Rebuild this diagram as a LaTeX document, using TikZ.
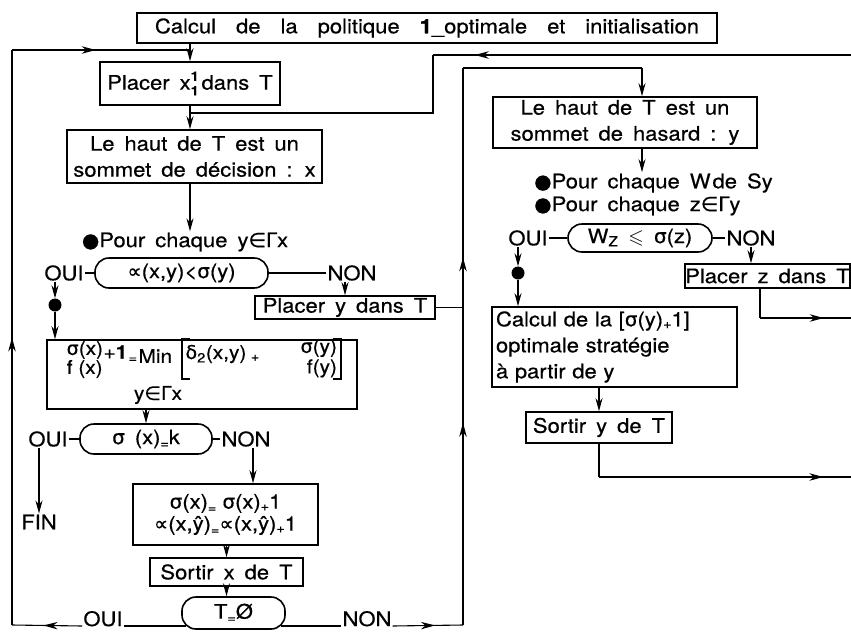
\documentclass[tikz,border=0pt]{standalone}
\usepackage{fontspec}
\usepackage{amssymb}
\setmainfont{TeX Gyre Heros}[FakeStretch=1.1, FakeBold=0.5]
\newfontfamily\symf{DejaVu Sans}[FakeBold=0.5]
\usetikzlibrary{arrows.meta,decorations.markings,calc}
\newcommand\fsz{\fontsize{20}{26}\selectfont\spaceskip=0.5em plus 0.1em\relax}
\newcommand\fszw{\fontsize{20}{26}\selectfont\spaceskip=1.0em plus 0.1em\relax}
\newcommand\fml{\fontsize{19}{22}\selectfont}
\newcommand\smf{\fontsize{13}{14}\selectfont}
\newcommand\sg{{\symf σ}}
\newcommand\al{{\symf ∝}}
\newcommand\eqs{\raisebox{-0.35ex}{\smf=}}
\newcommand\pls{\raisebox{-0.2ex}{\smf+}}
\newcommand\inn{{\symf ∈}}
\newcommand\Gm{{\symf Γ}}
\newcommand\bul{{\symf ●}}
\begin{document}
\begin{tikzpicture}[x=1pt,y=-1pt,
  box/.style={draw, line width=1.6pt, inner sep=0pt, font=\fsz, align=center},
  decision/.style={box, rounded corners=14pt},
  lbl/.style={font=\fsz, inner sep=1pt},
  fl/.style={font=\fml, inner sep=0.5pt},
  line/.style={line width=1.1pt},
  arr/.style={line, -{Stealth[length=13pt,width=7pt]}},
  midarr/.style={line, postaction={decorate}, decoration={markings, mark=at position #1 with {\arrow{Stealth[length=14pt,width=7.5pt]}}}},
  twoarr/.style 2 args={line, postaction={decorate}, decoration={markings, mark=at position #1 with {\arrow{Stealth[length=14pt,width=7.5pt]}}, mark=at position #2 with {\arrow{Stealth[length=14pt,width=7.5pt]}}}},
  dotn/.style={circle, fill, inner sep=0pt, minimum size=13pt}
]
\useasboundingbox (0,0) rectangle (851,640);

% ---------- left column ----------
\node[box, minimum width=580pt, minimum height=30pt, font=\fszw] (top) at (427,28) {Calcul de la politique \textbf{1}\_optimale et initialisation};
\node[box, minimum width=180pt, minimum height=43pt] (placer1) at (190,83.5)
  {Placer x\rlap{\raisebox{0.85ex}{\smf\bfseries 1}}\raisebox{-0.55ex}{\smf\bfseries 1}\kern3pt dans T};
\node[box, minimum width=255pt, minimum height=53pt] (decx) at (194.5,156.5) {Le haut de T est un\\sommet de décision : x};
\node[lbl] (pour1) at (185,242) {\bul Pour chaque y\inn\Gm x};
\node[decision, minimum width=173pt, minimum height=30pt] (cond1) at (181.5,273) {\al(x,y)<\sg(y)};
\node[lbl] (oui1) at (64,273) {OUI};
\node[lbl] (non1) at (352,273) {NON};
\node[box, minimum width=180pt, minimum height=23pt] (placery) at (345,307.5) {Placer y dans T};
\node[dotn] (d1) at (55,305) {};

\node[box, minimum width=310pt, minimum height=69pt] (formula) at (202,374.5) {};
\node[fl, anchor=west] (fa) at (66,350) {\sg(x)};
\node[fl, anchor=west] (fb) at (66,369) {f (x)};
\node[fl, anchor=west] (fc) at ($(fa.east)+(-1,2)$) {+\textbf{1}};
\node[fl, anchor=west, font=\smf] (fd) at ($(fc.east)+(0,8)$) {=};
\node[fl, anchor=west] (fe) at ($(fd.east)+(0,-4)$) {Min};
\coordinate (bl) at ($(fe.east)+(9,0)$);
\node[fl, anchor=west] (ff) at ($(bl)+(3,-2)$) {{\symf δ}\textsubscript{2}(x,y)};
\node[fl, anchor=west, font=\smf] (fg) at ($(ff.east)+(3,4)$) {+};
\node[fl, anchor=west] (fh) at ($(fg.east)+(40,-10)$) {\sg(y)};
\node[fl, anchor=north east] (fi) at ($(fh.south east)+(0,1)$) {f(y)};
\coordinate (br) at ($(fh.east |- bl)+(3,0)$);
\node[fl] (fj) at (158,395) {y\inn\Gm x};
\draw[line width=1.7pt] ($(bl)+(8,-17)$) -- ($(bl)+(0,-17)$) -- ($(bl)+(0,23)$) -- ($(bl)+(8,23)$);
\draw[line width=1.7pt] ($(br)+(-8,-17)$) -- ($(br)+(0,-17)$) -- ($(br)+(0,23)$) -- ($(br)+(-8,23)$);

\node[decision, minimum width=132pt, minimum height=30pt] (cond2) at (146,439) {\sg\ (x)\eqs k};
\node[lbl] (oui2) at (48,439) {OUI};
\node[lbl] (non2) at (246,439) {NON};
\node[lbl] (fin) at (39,522) {FIN};
\node[box, minimum width=185pt, minimum height=61pt, font=\fml] (incr) at (225.5,514.5)
  {\fontsize{20}{26}\selectfont\sg(x)\eqs\ \sg(x)\pls 1\\ \fontsize{20}{26}\selectfont\al(x,ŷ)\eqs\al(x,ŷ)\pls 1};
\node[box, minimum width=153pt, minimum height=28pt] (sortirx) at (226.5,572) {Sortir x de T};
\node[decision, minimum width=103pt, minimum height=32pt] (tvide) at (233.5,613) {T\eqs Ø};
\node[lbl, anchor=base] (oui3) at (103,626) {OUI};
\node[lbl, anchor=base] (non3) at (367,626) {NON};

% ---------- right column ----------
\node[box, minimum width=264pt, minimum height=51pt] (hasard) at (625,122.5) {Le haut de T est un\\sommet de hasard : y};
\node[lbl, anchor=west] (pour2) at (533,183) {\bul Pour chaque W\kern2pt de Sy};
\node[lbl, anchor=west] (pour3) at (533,206) {\bul Pour chaque z\inn\Gm y};
\node[decision, minimum width=144pt, minimum height=28pt] (cond3) at (640,238) {W\textsubscript{Z} $\leqslant$ \sg(z)};
\node[lbl] (oui4) at (528,238) {OUI};
\node[lbl] (non4) at (751,238) {NON};
\node[box, minimum width=163pt, minimum height=24pt] (placerz) at (767.5,276) {Placer z dans T};
\node[dotn] (d2) at (518,273) {};
\node[box, minimum width=245pt, minimum height=80pt, text width=237pt, align=left] (calcul) at (614.5,347)
  {Calcul de la [\sg(y)\pls 1]\\optimale stratégie\\à partir de y};
\node[box, minimum width=146pt, minimum height=31pt] (sortiry) at (599,427.5) {Sortir y de T};

% ---------- coordinates ----------
\coordinate (LB) at (12,625);
\coordinate (LT) at (12,50);
\coordinate (J1) at (190,50);
\coordinate (RR) at (851,55);
\coordinate (RC1) at (433,55);
\coordinate (RC2) at (433,113);
\coordinate (J2) at (190,113);
\coordinate (VB) at (463,625);
\coordinate (VT) at (463,68);
\coordinate (HT) at (642,68);
\coordinate (PZ1) at (760,318);
\coordinate (PZ2) at (851,318);
\coordinate (SY1) at (599,477);
\coordinate (SY2) at (851,477);
\coordinate (n2) at ($(non2.south)+(7,0)$);

% ---------- connectors ----------
\draw[arr] (top.south -| placer1.north) -- (placer1.north);
\draw[midarr=0.47] (LT) -- (J1);
\draw[midarr=0.5] (LB) -- (LT);
\draw[line] ($(tvide.west)+(4.5,13)$) -- (oui3.base east);
\draw[midarr=0.55] (oui3.base west) -- (LB);

\draw[arr] (placer1.south) -- (placer1.south |- decx.north);
\draw[midarr=0.9] (RR) -- (RC1);
\draw[line] (RC1) -- (RC2) -- (J2);
\draw[arr] (placer1.south |- decx.south) -- (placer1.south |- pour1.north);

\draw[line] (oui1) -- (cond1);
\draw[line] (cond1) -- (non1);
\draw[arr] (non1.south -| placery.north) -- (placery.north);
\draw[line] (placery.east) -- (placery.east -| VB);
\draw[arr] (oui1.south -| d1) -- (d1.north);
\draw[arr] (d1.south) -- (d1 |- formula.north);

\draw[arr] (cond2.north |- formula.south) -- (cond2.north);
\draw[line] (oui2) -- (cond2);
\draw[line] (cond2) -- (non2);
\draw[arr] (oui2.south -| fin.north) -- (fin.north);
\draw[arr] (n2) -- (n2 |- incr.north);
\draw[arr] (incr.south -| sortirx.north) -- (sortirx.north);
\draw[arr] (sortirx.south) -- (sortirx.south |- tvide.north);

\draw[line] ($(tvide.east)+(-4.5,13)$) -- (non3.base west);
\draw[midarr=0.6] (non3.base east) -- (VB);
\draw[twoarr={0.363}{0.66}] (VB) -- (VT);
\draw[line] (VT) -- (HT);
\draw[arr] (HT) -- (hasard.north -| HT);
\draw[arr] (hasard.south -| HT) -- (pour2.north -| HT);

\draw[line] (oui4) -- (cond3);
\draw[line] (cond3) -- (non4);
\draw[arr] (non4.south) -- (non4.south |- placerz.north);
\draw[line] (placerz.south -| PZ1) -- (PZ1);
\draw[midarr=0.7] (PZ1) -- (PZ2);
\draw[arr] (oui4.south -| d2) -- (d2.north);
\draw[arr] (d2.south) -- (d2 |- calcul.north);
\draw[arr] (calcul.south -| sortiry.north) -- (sortiry.north);
\draw[line] (sortiry.south) -- (SY1);
\draw[midarr=0.89] (SY1) -- (SY2);
\end{tikzpicture}
\end{document}
